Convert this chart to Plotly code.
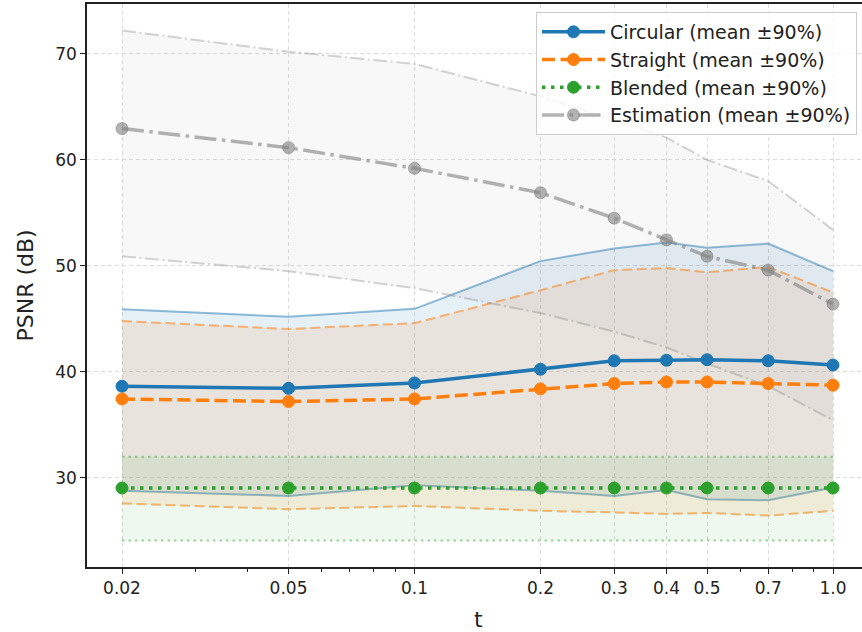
import plotly.graph_objects as go
import math

# ---- data ----
t_vals = [0.02, 0.05, 0.1, 0.2, 0.3, 0.4, 0.5, 0.7, 1.0]
tick_labels = ["0.02", "0.05", "0.1", "0.2", "0.3", "0.4", "0.5", "0.7", "1.0"]

circ_mean = [38.65, 38.45, 38.95, 40.25, 41.05, 41.1, 41.15, 41.05, 40.65]
circ_lo = [28.8, 28.3, 29.3, 28.8, 28.3, 28.85, 28.0, 27.9, 29.1]
circ_hi = [45.9, 45.2, 45.95, 50.45, 51.65, 52.2, 51.7, 52.1, 49.5]

str_mean = [37.45, 37.2, 37.45, 38.4, 38.9, 39.05, 39.05, 38.9, 38.75]
str_lo = [27.6, 27.05, 27.35, 26.9, 26.75, 26.6, 26.7, 26.45, 26.9]
str_hi = [44.8, 44.05, 44.6, 47.7, 49.6, 49.8, 49.4, 49.9, 47.5]

bl_mean = [29.05, 29.05, 29.05, 29.05, 29.05, 29.05, 29.05, 29.05, 29.05]
bl_lo = [24.1, 24.1, 24.1, 24.1, 24.1, 24.1, 24.1, 24.1, 24.1]
bl_hi = [32.0, 32.0, 32.0, 32.0, 32.0, 32.0, 32.0, 32.0, 32.0]

est_mean = [62.95, 61.15, 59.2, 56.9, 54.5, 52.45, 50.9, 49.6, 46.4]
est_lo = [50.9, 49.5, 47.9, 45.55, 43.8, 42.3, 40.8, 38.65, 35.45]
est_hi = [72.2, 70.2, 69.05, 66.0, 63.8, 62.1, 60.0, 58.0, 53.4]

names = ["Circular (mean ±90%)", "Straight (mean ±90%)",
         "Blended (mean ±90%)", "Estimation (mean ±90%)"]

# ---- styles ----
series = [
    dict(mean=circ_mean, lo=circ_lo, hi=circ_hi, rgb=(31, 119, 180),
         dash="solid", edge_dash="solid", fill_a=0.11, edge_a=0.5, line_a=1.0),
    dict(mean=str_mean, lo=str_lo, hi=str_hi, rgb=(255, 127, 14),
         dash="13px,5.5px", edge_dash="10px,4.5px", fill_a=0.11, edge_a=0.55, line_a=1.0),
    dict(mean=bl_mean, lo=bl_lo, hi=bl_hi, rgb=(44, 160, 44),
         dash="3.5px,5.5px", edge_dash="2.5px,4px", fill_a=0.08, edge_a=0.45, line_a=1.0),
    dict(mean=est_mean, lo=est_lo, hi=est_hi, rgb=(128, 128, 128),
         dash="22px,5.5px,3.5px,5.5px", edge_dash="14px,3.5px,2px,3.5px",
         fill_a=0.06, edge_a=0.35, line_a=0.6),
]


def rgba(c, a):
    return f"rgba({c[0]},{c[1]},{c[2]},{a})"


fig = go.Figure()

# bands
for s in series:
    fig.add_trace(go.Scatter(
        x=t_vals, y=s["lo"], mode="lines",
        line=dict(color=rgba(s["rgb"], s["edge_a"]), width=2, dash=s["edge_dash"]),
        showlegend=False, hoverinfo="skip"))
    fig.add_trace(go.Scatter(
        x=t_vals, y=s["hi"], mode="lines", fill="tonexty",
        fillcolor=rgba(s["rgb"], s["fill_a"]),
        line=dict(color=rgba(s["rgb"], s["edge_a"]), width=2, dash=s["edge_dash"]),
        showlegend=False, hoverinfo="skip"))

# mean lines
for i, s in enumerate(series):
    fig.add_trace(go.Scatter(
        x=t_vals, y=s["mean"], mode="lines+markers", name=names[i],
        legendgroup=f"g{i}",
        line=dict(color=rgba(s["rgb"], s["line_a"]), width=3.5, dash=s["dash"]),
        marker=dict(size=12, color=rgba(s["rgb"], s["line_a"]),
                    line=dict(width=1, color=rgba(s["rgb"], s["line_a"])))))

# ---- layout ----
L, R, T, B = 87, 0, 4, 65
W, H = 862, 632
pw = W - L - R
ph = H - T - B
px_per_dec = 418.5
x0 = math.log10(0.02) - (122 - 87) / px_per_dec
x1 = x0 + pw / px_per_dec

minor_vals = [0.03, 0.04, 0.06, 0.07, 0.08, 0.09, 0.6, 0.8, 0.9]

font_fam = "DejaVu Sans, Liberation Sans, sans-serif"
grid_col = "#dcdcdc"

fig.update_layout(
    width=W, height=H,
    margin=dict(l=L, r=R, t=T, b=B, pad=0),
    paper_bgcolor="white", plot_bgcolor="white",
    font=dict(family=font_fam, color="#222222", size=17),
    legend=dict(
        x=(857 - L) / pw, xanchor="right",
        y=(H - B - 12) / ph, yanchor="top",
        bgcolor="rgba(255,255,255,0.8)", bordercolor="#cccccc", borderwidth=1,
        font=dict(size=19, family=font_fam, color="#222222"),
        traceorder="grouped", tracegroupgap=0, itemwidth=63,
    ),
    xaxis=dict(
        type="log", range=[x0, x1],
        tickvals=t_vals, ticktext=tick_labels,
        ticks="outside", ticklen=5, tickwidth=1.3, tickcolor="#222222",
        tickfont=dict(size=17),
        showline=True, linecolor="#222222", linewidth=1.5, mirror=True,
        showgrid=True, gridcolor=grid_col, griddash="4px,3px", gridwidth=1,
        zeroline=False,
        minor=dict(tickvals=minor_vals, ticks="outside", ticklen=3, tickwidth=1,
                   tickcolor="#222222", showgrid=False),
    ),
    yaxis=dict(
        range=[21.6, 74.7],
        tickvals=[30, 40, 50, 60, 70],
        ticks="outside", ticklen=5, tickwidth=1.3, tickcolor="#222222",
        tickfont=dict(size=17),
        showline=True, linecolor="#222222", linewidth=1.5, mirror=False,
        showgrid=True, gridcolor=grid_col, griddash="4px,3px", gridwidth=1,
        zeroline=False,
    ),
    annotations=[
        dict(text="t", xref="paper", yref="paper",
             x=(478 - L) / pw, y=-(619 - (H - B)) / ph,
             xanchor="center", yanchor="middle", showarrow=False,
             font=dict(size=22, family=font_fam, color="#222222")),
        dict(text="PSNR (dB)", xref="paper", yref="paper",
             x=(25 - L) / pw, y=0.5, textangle=-90,
             xanchor="center", yanchor="middle", showarrow=False,
             font=dict(size=22, family=font_fam, color="#222222")),
    ],
)

fig.write_html("out.html",
               config={"displayModeBar": False},
               post_script="document.body.style.margin='0px';document.body.style.overflow='hidden';")
